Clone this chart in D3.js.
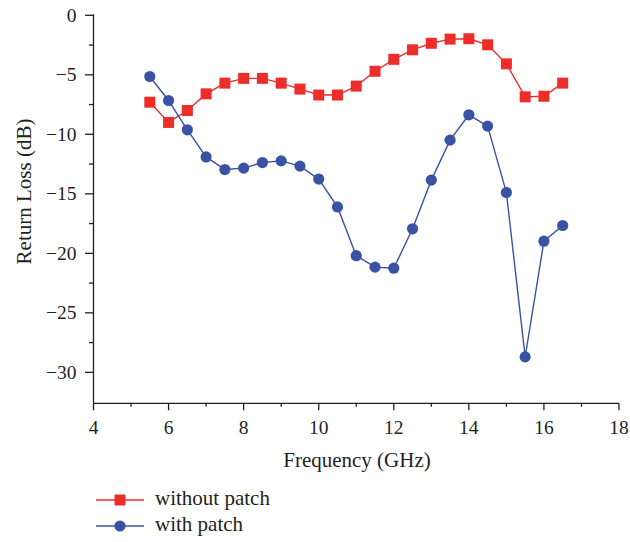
<!DOCTYPE html>
<html>
<head>
<meta charset="utf-8">
<script src="https://cdn.jsdelivr.net/npm/d3@7"></script>
<style>
  html, body { margin: 0; padding: 0; background: #fff; }
  svg { display: block; }
  text { font-family: "Liberation Serif", "DejaVu Serif", serif; fill: #231f20; }
</style>
</head>
<body>
<svg id="chart" width="630" height="542"></svg>
<script>
// Frequency sweep (GHz)
const frequency = [5.5, 6, 6.5, 7, 7.5, 8, 8.5, 9, 9.5, 10, 10.5, 11, 11.5, 12, 12.5, 13, 13.5, 14, 14.5, 15, 15.5, 16, 16.5];
// Return loss (dB) of the antenna without the patch
const withoutPatch = [-7.3, -9.0, -8.0, -6.6, -5.7, -5.3, -5.3, -5.7, -6.2, -6.7, -6.7, -5.95, -4.7, -3.7, -2.9, -2.35, -2.0, -1.97, -2.48, -4.08, -6.85, -6.8, -5.7];
// Return loss (dB) of the antenna with the patch
const withPatch = [-5.14, -7.16, -9.62, -11.9, -12.96, -12.84, -12.37, -12.23, -12.67, -13.76, -16.1, -20.2, -21.16, -21.25, -17.94, -13.85, -10.49, -8.36, -9.31, -14.89, -28.7, -18.98, -17.66];
const xTicks = [4, 6, 8, 10, 12, 14, 16, 18];
const yTicks = [0, -5, -10, -15, -20, -25, -30];
const seriesNames = ["without patch", "with patch"];

const svg = d3.select("#chart");
const plotLeft = 93.5, plotRight = 619, plotTop = 15.3, plotBottom = 403.3;

const x = d3.scaleLinear().domain([4, 18]).range([plotLeft, plotRight]);
const y = d3.scaleLinear().domain([-32.6, 0]).range([plotBottom, plotTop]);

const axisColor = "#231f20";

// Minor ticks
const xMinor = d3.range(5, 18, 2);
const yMinor = d3.range(-2.5, -32.5, -5);

const gx = svg.append("g").attr("transform", `translate(0,${plotBottom})`);
gx.append("line").attr("x1", plotLeft).attr("x2", plotRight).attr("stroke", axisColor).attr("stroke-width", 1.3);
gx.selectAll(".maj").data(xTicks).join("line").attr("class", "maj")
  .attr("x1", d => x(d)).attr("x2", d => x(d)).attr("y1", 0).attr("y2", 7)
  .attr("stroke", axisColor).attr("stroke-width", 1.3);
gx.selectAll(".min").data(xMinor).join("line").attr("class", "min")
  .attr("x1", d => x(d)).attr("x2", d => x(d)).attr("y1", 0).attr("y2", 3.5)
  .attr("stroke", axisColor).attr("stroke-width", 1.3);
gx.selectAll("text").data(xTicks).join("text")
  .attr("x", d => x(d)).attr("y", 30.7)
  .attr("text-anchor", "middle").attr("font-size", 19.5)
  .text(d => d);

const gy = svg.append("g").attr("transform", `translate(${plotLeft},0)`);
gy.append("line").attr("y1", plotTop - 1).attr("y2", plotBottom).attr("stroke", axisColor).attr("stroke-width", 1.3);
gy.selectAll(".maj").data(yTicks).join("line").attr("class", "maj")
  .attr("y1", d => y(d)).attr("y2", d => y(d)).attr("x1", 0).attr("x2", -8.5)
  .attr("stroke", axisColor).attr("stroke-width", 1.3);
gy.selectAll(".min").data(yMinor).join("line").attr("class", "min")
  .attr("y1", d => y(d)).attr("y2", d => y(d)).attr("x1", 0).attr("x2", -4.5)
  .attr("stroke", axisColor).attr("stroke-width", 1.3);
gy.selectAll("text").data(yTicks).join("text")
  .attr("x", -17).attr("y", d => y(d)).attr("dy", "0.34em")
  .attr("text-anchor", "end").attr("font-size", 19.5)
  .text(d => d === 0 ? "0" : "\u2212" + Math.abs(d));

// Axis titles
svg.append("text").attr("x", 357).attr("y", 466.7)
  .attr("text-anchor", "middle").attr("font-size", 21).text("Frequency (GHz)");
svg.append("text").attr("transform", "translate(31,191.5) rotate(-90)")
  .attr("text-anchor", "middle").attr("font-size", 21).text("Return Loss (dB)");

const red = "#ec2d2a", blue = "#3a52a3";
const line = d3.line().x((d, i) => x(frequency[i])).y(d => y(d));

// Without patch: red squares
svg.append("path").datum(withoutPatch).attr("d", line)
  .attr("fill", "none").attr("stroke", red).attr("stroke-width", 1.4);
svg.selectAll(".sq").data(withoutPatch).join("rect").attr("class", "sq")
  .attr("x", (d, i) => x(frequency[i]) - 5.5).attr("y", d => y(d) - 5.5)
  .attr("width", 11).attr("height", 11).attr("fill", red);

// With patch: blue circles
svg.append("path").datum(withPatch).attr("d", line)
  .attr("fill", "none").attr("stroke", blue).attr("stroke-width", 1.4);
svg.selectAll(".dot").data(withPatch).join("circle").attr("class", "dot")
  .attr("cx", (d, i) => x(frequency[i])).attr("cy", d => y(d))
  .attr("r", 5.6).attr("fill", blue);

// Legend
const legend = svg.append("g");
const legendRows = [
  { name: seriesNames[0], color: red, shape: "square", yy: 500 },
  { name: seriesNames[1], color: blue, shape: "circle", yy: 526 }
];
legendRows.forEach(r => {
  legend.append("line").attr("x1", 96).attr("x2", 144).attr("y1", r.yy).attr("y2", r.yy)
    .attr("stroke", r.color).attr("stroke-width", 1.4);
  if (r.shape === "square") {
    legend.append("rect").attr("x", 120 - 5.5).attr("y", r.yy - 5.5).attr("width", 11).attr("height", 11).attr("fill", r.color);
  } else {
    legend.append("circle").attr("cx", 120).attr("cy", r.yy).attr("r", 5.6).attr("fill", r.color);
  }
  legend.append("text").attr("x", 155).attr("y", r.yy).attr("dy", "0.24em")
    .attr("font-size", 21).text(r.name);
});
</script>
</body>
</html>
